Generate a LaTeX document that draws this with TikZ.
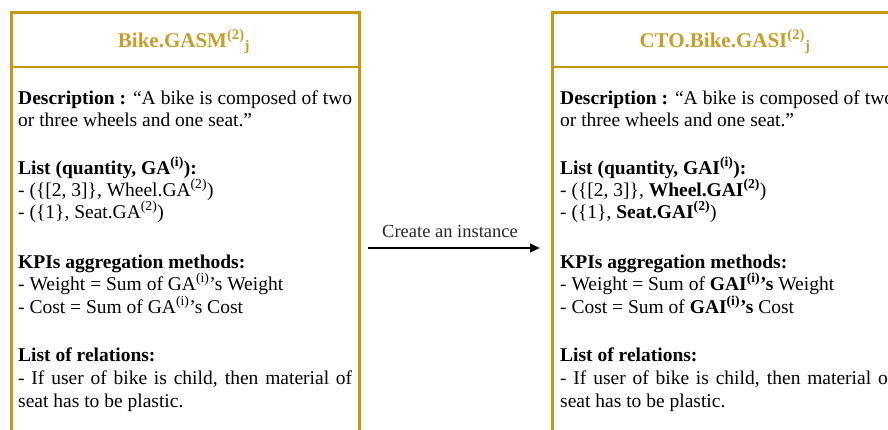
\documentclass[tikz,border=0pt]{standalone}
\usepackage{fontspec}
\setmainfont{Liberation Serif}
\usetikzlibrary{arrows.meta}
\definecolor{gold}{RGB}{199,153,8}
\definecolor{titlegold}{RGB}{200,157,40}
\definecolor{labelgray}{RGB}{40,40,40}
\newcommand{\jline}[1]{\makebox[334pt][s]{#1}}
\tikzset{
  box/.style={draw=gold, line width=2.8pt, minimum width=348pt, minimum height=420pt, anchor=north west, inner sep=0pt},
  sepline/.style={draw=gold, line width=2.8pt},
  ttl/.style={anchor=base, inner sep=0pt, text=titlegold, font=\fontsize{21}{25}\selectfont\bfseries},
  txt/.style={anchor=base west, inner sep=0pt, font=\fontsize{19.5}{23}\selectfont},
  lbl/.style={anchor=base, inner sep=0pt, text=labelgray, font=\fontsize{18.5}{22}\selectfont},
  flow/.style={line width=2.4pt, -{Triangle[length=10pt,width=8.5pt]}}
}
\begin{document}
\begin{tikzpicture}[x=1pt,y=-1pt]
\useasboundingbox (0,0) rectangle (888,429);
\clip (0,0) rectangle (888,429);
% boxes
\node[box] (lbox) at (10,11) {};
\node[box] (rbox) at (551,11) {};
\draw[sepline] (10,67) -- (358,67);
\draw[sepline] (551,67) -- (899,67);
% titles
\node[ttl] (lt) at (184,47) {Bike.GASM\textsuperscript{(2)}\textsubscript{j}};
\node[ttl] (rt) at (725,47) {CTO.Bike.GASI\textsuperscript{(2)}\textsubscript{j}};
% left text
\node[txt] (l1) at (18,104) {\jline{\textbf{Description :} “A bike is composed of two}};
\node[txt] (l2) at (18,126) {or three wheels and one seat.”};
\node[txt] (l3) at (18,174) {\textbf{List (quantity, GA\textsuperscript{(i)}):}};
\node[txt] (l4) at (18,196) {- (\{[2, 3]\}, Wheel.GA\textsuperscript{(2)})};
\node[txt] (l5) at (18,218) {- (\{1\}, Seat.GA\textsuperscript{(2)})};
\node[txt] (l6) at (18,268) {\textbf{KPIs aggregation methods:}};
\node[txt] (l7) at (18,290) {- Weight = Sum of GA\textsuperscript{(i)}’s Weight};
\node[txt] (l8) at (18,313) {- Cost = Sum of GA\textsuperscript{(i)}’s Cost};
\node[txt] (l9) at (18,361) {\textbf{List of relations:}};
\node[txt] (l10) at (18,384) {\jline{- If user of bike is child, then material of}};
\node[txt] (l11) at (18,407) {seat has to be plastic.};
% right text
\node[txt] (r1) at (560,104) {\jline{\textbf{Description :} “A bike is composed of two}};
\node[txt] (r2) at (560,126) {or three wheels and one seat.”};
\node[txt] (r3) at (560,174) {\textbf{List (quantity, GAI\textsuperscript{(i)}):}};
\node[txt] (r4) at (560,196) {- (\{[2, 3]\}, \textbf{Wheel.GAI\textsuperscript{(2)}})};
\node[txt] (r5) at (560,218) {- (\{1\}, \textbf{Seat.GAI\textsuperscript{(2)}})};
\node[txt] (r6) at (560,268) {\textbf{KPIs aggregation methods:}};
\node[txt] (r7) at (560,290) {- Weight = Sum of \textbf{GAI\textsuperscript{(i)}’s} Weight};
\node[txt] (r8) at (560,313) {- Cost = Sum of \textbf{GAI\textsuperscript{(i)}’s} Cost};
\node[txt] (r9) at (560,361) {\textbf{List of relations:}};
\node[txt] (r10) at (560,384) {\jline{- If user of bike is child, then material of}};
\node[txt] (r11) at (560,407) {seat has to be plastic.};
% arrow
\coordinate (as) at (368,248);
\coordinate (ae) at (540,248);
\draw[flow] (as) -- (ae);
\node[lbl] (al) at (450,237) {Create an instance};
\end{tikzpicture}
\end{document}
